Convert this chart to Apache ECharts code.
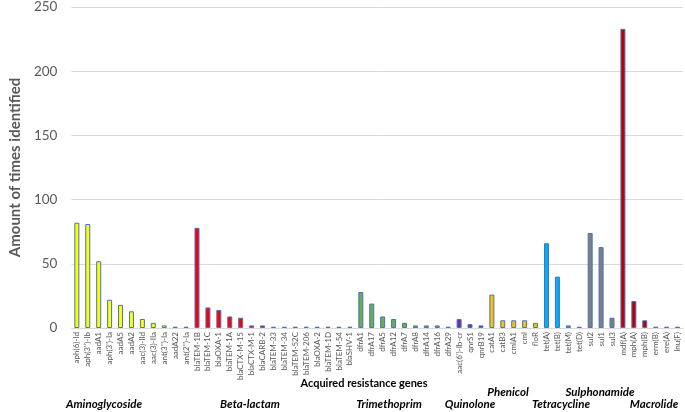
<!DOCTYPE html>
<html><head><meta charset="utf-8">
<script src="https://cdn.jsdelivr.net/npm/echarts@6/dist/echarts.min.js"></script>
<style>html,body{margin:0;padding:0;background:#fff}#c{width:685px;height:412px}</style>
</head><body><div id="c"></div>
<script>
const aminoglycosideGenes = ["aph(6)-Id","aph(3'')-Ib","aadA1","aph(3')-Ia","aadA5","aadA2","aac(3)-IId","aac(3)-IIa","ant(3'')-Ia","aadA22","ant(2'')-Ia"];
const aminoglycosideValues = [82,81,52,22,18,13,7,4,2,1,1];
const betaLactamGenes = ["blaTEM-1B","blaTEM-1C","blaOXA-1","blaTEM-1A","blaCTX-M-15","blaCTX-M-1","blaCARB-2","blaTEM-33","blaTEM-34","blaTEM-52C","blaTEM-206","blaOXA-2","blaTEM-1D","blaTEM-54","blaSHV-1"];
const betaLactamValues = [78,16,14,9,8,2,2,1,1,1,1,1,1,1,1];
const trimethoprimGenes = ["dfrA1","dfrA17","dfrA5","dfrA12","dfrA7","dfrA8","dfrA14","dfrA16","dfrA29"];
const trimethoprimValues = [28,19,9,7,4,2,2,2,1];
const quinoloneGenes = ["aac(6')-Ib-cr","qnrS1","qnrB19"];
const quinoloneValues = [7,3,2];
const phenicolGenes = ["catA1","catB3","cmlA1","cml","floR"];
const phenicolValues = [26,6,6,6,4];
const tetracyclineGenes = ["tet(A)","tet(B)","tet(M)","tet(D)"];
const tetracyclineValues = [66,40,2,1];
const sulphonamideGenes = ["sul2","sul1","sul3"];
const sulphonamideValues = [74,63,8];
const macrolideGenes = ["mdf(A)","mph(A)","mph(B)","erm(B)","ere(A)","lnu(F)"];
const macrolideValues = [233,21,6,1,1,1];
const yTicks = [0,50,100,150,200,250];

const groups = [
  {genes: aminoglycosideGenes, values: aminoglycosideValues, color:'#FFFF00'},
  {genes: betaLactamGenes, values: betaLactamValues, color:'#FF0000'},
  {genes: trimethoprimGenes, values: trimethoprimValues, color:'#70AD47'},
  {genes: quinoloneGenes, values: quinoloneValues, color:'#7030A0'},
  {genes: phenicolGenes, values: phenicolValues, color:'#FFC000'},
  {genes: tetracyclineGenes, values: tetracyclineValues, color:'#00B0F0'},
  {genes: sulphonamideGenes, values: sulphonamideValues, color:'#7F7F7F'},
  {genes: macrolideGenes, values: macrolideValues, color:'#C00000'}
];
const categories = [];
const data = [];
groups.forEach(g => {
  g.genes.forEach((n,i) => {
    categories.push(n);
    data.push({value: g.values[i], itemStyle: {color: g.color}});
  });
});

const chart = echarts.init(document.getElementById('c'));
const gl = {type:'text', style:{fontFamily:'Lato', fontWeight:'bold', fontStyle:'italic', fontSize:11.5, fill:'#000', align:'center', verticalAlign:'middle'}};
function lab(t,x,y){return Object.assign({}, gl, {x:x, y:y, style:Object.assign({}, gl.style, {text:t})});}
chart.setOption({
  animation:false,
  grid:{left:63, right:2, top:7, bottom:84, containLabel:false},
  xAxis:{type:'category', data:categories,
    axisLine:{lineStyle:{color:'#D9D9D9'}}, axisTick:{show:false},
    axisLabel:{rotate:90, interval:0, fontSize:8, color:'#595959', fontFamily:'Lato', margin:4}},
  yAxis:{type:'value', min:yTicks[0], max:yTicks[yTicks.length-1], interval:50,
    name:'Amount of times identified', nameLocation:'middle', nameGap:41,
    nameTextStyle:{fontSize:15, fontWeight:'bold', color:'#595959', fontFamily:'Lato'},
    axisLabel:{fontSize:13.5, color:'#595959', fontFamily:'Lato', margin:14},
    axisLine:{show:false}, axisTick:{show:false},
    splitLine:{lineStyle:{color:'#D9D9D9'}}},
  series:[{type:'bar', data:data, barWidth:5, itemStyle:{borderColor:'#4472C4', borderWidth:1}}],
  graphic:[
    {type:'text', x:364, y:383, style:{text:'Acquired resistance genes', fontFamily:'Lato', fontWeight:'bold', fontSize:11, fill:'#000', align:'center', verticalAlign:'middle'}},
    lab('Aminoglycoside',104,404), lab('Beta-lactam',250,404), lab('Trimethoprim',389,404),
    lab('Quinolone',470,404), lab('Phenicol',508,392), lab('Tetracycline',561,404),
    lab('Sulphonamide',600,392), lab('Macrolide',654,404)
  ]
});
</script></body></html>
